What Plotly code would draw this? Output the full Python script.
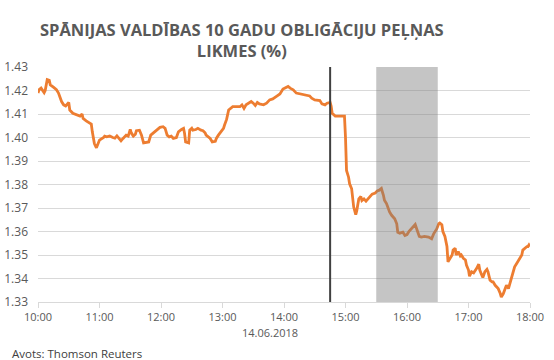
import plotly.graph_objects as go

DATE = "2018-06-14"

times = [
    "10:00", "10:01", "10:03", "10:05", "10:06", "10:07", "10:08", "10:09", "10:11", "10:12",
    "10:15", "10:18", "10:20", "10:21", "10:23", "10:25", "10:27", "10:30", "10:31", "10:34",
    "10:38", "10:41", "10:43", "10:44", "10:47", "10:50", "10:52", "10:53", "10:55", "10:57",
    "10:59", "11:00", "11:04", "11:05", "11:07", "11:10", "11:13", "11:15", "11:17", "11:19",
    "11:21", "11:23", "11:25", "11:26", "11:28", "11:30", "11:31", "11:33", "11:35", "11:36",
    "11:39", "11:41", "11:43", "11:46", "11:48", "11:50", "11:52", "11:54", "11:56", "11:59",
    "12:02", "12:04", "12:06", "12:08", "12:10", "12:12", "12:15", "12:17", "12:20", "12:22",
    "12:23", "12:24", "12:27", "12:28", "12:30", "12:31", "12:34", "12:36", "12:39", "12:41",
    "12:43", "12:44", "12:48", "12:50", "12:53", "12:54", "12:56", "12:58", "13:01", "13:02",
    "13:04", "13:06", "13:08", "13:10", "13:14", "13:17", "13:19", "13:21", "13:23", "13:26",
    "13:28", "13:30", "13:32", "13:34", "13:36", "13:40", "13:43", "13:46", "13:49", "13:53",
    "13:56", "13:59", "14:01", "14:04", "14:06", "14:09", "14:12", "14:15", "14:19", "14:22",
    "14:25", "14:27", "14:30", "14:35", "14:37", "14:40", "14:42", "14:45", "14:46", "14:47",
    "14:50", "14:54", "14:59", "15:00", "15:01", "15:03", "15:04", "15:06", "15:07", "15:08",
    "15:10", "15:11", "15:13", "15:15", "15:16", "15:18", "15:20", "15:22", "15:24", "15:26",
    "15:29", "15:31", "15:33", "15:35", "15:37", "15:38", "15:40", "15:43", "15:45", "15:48",
    "15:50", "15:51", "15:53", "15:56", "15:58", "16:00", "16:02", "16:04", "16:08", "16:10",
    "16:12", "16:14", "16:17", "16:21", "16:24", "16:26", "16:29", "16:31", "16:32", "16:34",
    "16:35", "16:37", "16:39", "16:40", "16:42", "16:44", "16:45", "16:47", "16:48", "16:50",
    "16:52", "16:53", "16:55", "16:57", "16:58", "17:00", "17:01", "17:03", "17:05", "17:06",
    "17:08", "17:10", "17:11", "17:13", "17:14", "17:16", "17:18", "17:19", "17:21", "17:23",
    "17:24", "17:26", "17:27", "17:29", "17:31", "17:32", "17:34", "17:36", "17:37", "17:39",
    "17:40", "17:42", "17:44", "17:45", "17:47", "17:49", "17:50", "17:52", "17:53", "17:55",
    "17:57", "17:58", "17:59", "18:00",
]

yields = [
    1.4189, 1.4203, 1.4210, 1.4200, 1.4191, 1.4200, 1.4224, 1.4246, 1.4243, 1.4224,
    1.4214, 1.4203, 1.4189, 1.4174, 1.4153, 1.4139, 1.4134, 1.4149, 1.4117, 1.4103,
    1.4096, 1.4091, 1.4100, 1.4081, 1.4071, 1.4063, 1.4057, 1.4024, 1.3974, 1.3956,
    1.3974, 1.3989, 1.4000, 1.4006, 1.4003, 1.4006, 1.4000, 1.3997, 1.4007, 1.3996,
    1.3986, 1.3996, 1.4006, 1.4010, 1.4006, 1.4034, 1.4020, 1.4006, 1.4014, 1.4029,
    1.4031, 1.4010, 1.3977, 1.3979, 1.3981, 1.4010, 1.4017, 1.4024, 1.4031, 1.4043,
    1.4046, 1.4039, 1.4010, 1.4003, 1.4006, 1.3996, 1.4000, 1.4024, 1.4034, 1.4039,
    1.4017, 1.3981, 1.3977, 1.4031, 1.4039, 1.4031, 1.4034, 1.4039, 1.4031, 1.4029,
    1.4020, 1.4010, 1.3996, 1.3981, 1.3984, 1.3996, 1.4010, 1.4024, 1.4039, 1.4053,
    1.4077, 1.4117, 1.4124, 1.4131, 1.4131, 1.4131, 1.4139, 1.4124, 1.4139, 1.4149,
    1.4153, 1.4146, 1.4136, 1.4149, 1.4143, 1.4139, 1.4146, 1.4160, 1.4164, 1.4176,
    1.4185, 1.4206, 1.4210, 1.4217, 1.4210, 1.4203, 1.4189, 1.4186, 1.4181, 1.4181,
    1.4177, 1.4167, 1.4160, 1.4157, 1.4143, 1.4139, 1.4146, 1.4149, 1.4134, 1.4103,
    1.4091, 1.4091, 1.4091, 1.4000, 1.3860, 1.3831, 1.3803, 1.3782, 1.3732, 1.3704,
    1.3672, 1.3689, 1.3739, 1.3749, 1.3732, 1.3739, 1.3729, 1.3739, 1.3747, 1.3759,
    1.3764, 1.3773, 1.3776, 1.3783, 1.3754, 1.3733, 1.3719, 1.3683, 1.3669, 1.3654,
    1.3633, 1.3597, 1.3593, 1.3597, 1.3583, 1.3587, 1.3601, 1.3611, 1.3630, 1.3604,
    1.3579, 1.3576, 1.3579, 1.3576, 1.3569, 1.3590, 1.3611, 1.3633, 1.3636, 1.3629,
    1.3600, 1.3579, 1.3536, 1.3471, 1.3486, 1.3500, 1.3521, 1.3529, 1.3500, 1.3514,
    1.3496, 1.3500, 1.3486, 1.3479, 1.3457, 1.3436, 1.3410, 1.3429, 1.3424, 1.3429,
    1.3443, 1.3461, 1.3436, 1.3414, 1.3404, 1.3429, 1.3439, 1.3429, 1.3393, 1.3386,
    1.3386, 1.3371, 1.3367, 1.3357, 1.3336, 1.3321, 1.3336, 1.3357, 1.3371, 1.3357,
    1.3371, 1.3400, 1.3429, 1.3450, 1.3464, 1.3479, 1.3486, 1.3500, 1.3521, 1.3529,
    1.3536, 1.3536, 1.3543, 1.3536,
]

hour_ticks = ["10:00", "11:00", "12:00", "13:00", "14:00", "15:00", "16:00", "17:00", "18:00"]
event_time = "14:45"
shade_start, shade_end = "15:30", "16:30"
y_min, y_max = 1.33, 1.43

title_text = "SPĀNIJAS VALDĪBAS 10 GADU OBLIGĀCIJU PEĻŅAS<br>LIKMES (%)"
date_label = "14.06.2018"
source_text = "Avots: Thomson Reuters"

def ts(t):
    return f"{DATE} {t}"

GRAY = "#595959"
FONT = "Open Sans"

fig = go.Figure()
fig.add_trace(go.Scatter(
    x=[ts(t) for t in times], y=yields, mode="lines",
    line=dict(color="#ED7D31", width=2.8), hoverinfo="skip",
))

# event line
fig.add_shape(type="line", xref="x", yref="y",
              x0=ts(event_time), x1=ts(event_time), y0=y_min, y1=y_max,
              line=dict(color="#404040", width=2), layer="above")
# shaded period
fig.add_shape(type="rect", xref="x", yref="y",
              x0=ts(shade_start), x1=ts(shade_end), y0=y_min, y1=y_max,
              fillcolor="#7f7f7f", opacity=0.45, line=dict(width=0), layer="above")

L, R, T, B = 38, 24, 67, 58
W, H = 554, 360
plot_w = W - L - R
plot_h = H - T - B

fig.update_layout(
    width=W, height=H,
    margin=dict(l=L, r=R, t=T, b=B, autoexpand=False),
    paper_bgcolor="white", plot_bgcolor="white",
    showlegend=False,
    font=dict(family=FONT, color=GRAY, size=11),
)

fig.update_xaxes(
    type="date", automargin=False,
    range=[ts(hour_ticks[0]), ts(hour_ticks[-1])],
    tickmode="array", tickvals=[ts(t) for t in hour_ticks], ticktext=hour_ticks,
    showgrid=False, showline=True, linecolor="#d9d9d9", linewidth=1,
    ticks="outside", ticklen=5, tickcolor="#d9d9d9",
    tickfont=dict(family=FONT, size=11, color=GRAY), zeroline=False,
)
fig.update_yaxes(
    automargin=False,
    range=[y_min, y_max], dtick=0.01, tickformat=".2f",
    showgrid=True, gridcolor="#d9d9d9", gridwidth=1,
    showline=False, zeroline=False, ticks="",
    ticklabelstandoff=9,
    tickfont=dict(family=FONT, size=12, color=GRAY),
)

def px_x(px):
    return (px - L) / plot_w

def px_y(py):
    return (H - B - py) / plot_h

fig.add_annotation(text=title_text, xref="paper", yref="paper",
                   x=px_x(242), y=px_y(40), xanchor="center", yanchor="middle",
                   showarrow=False, align="center",
                   font=dict(family=FONT, size=16.5, color=GRAY, weight="bold"))
fig.add_annotation(text=date_label, xref="paper", yref="paper",
                   x=px_x(270), y=px_y(332),
                   xanchor="center", yanchor="middle", showarrow=False,
                   font=dict(family=FONT, size=11, color=GRAY))
fig.add_annotation(text=source_text, xref="paper", yref="paper",
                   x=px_x(10), y=px_y(353),
                   xanchor="left", yanchor="middle", showarrow=False,
                   font=dict(family=FONT, size=11.5, color="#404040"))

fig.write_html("out.html")
